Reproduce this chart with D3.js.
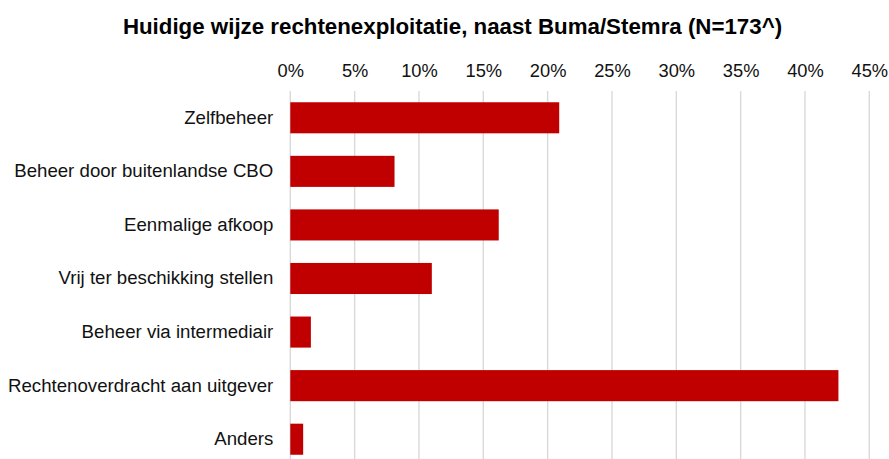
<!DOCTYPE html>
<html>
<head>
<meta charset="utf-8">
<script src="https://cdn.jsdelivr.net/npm/d3@7"></script>
<style>
  body { margin: 0; background: #fff; }
  text { font-family: "Liberation Sans", Arial, sans-serif; }
</style>
</head>
<body>
<div id="chart"></div>
<script>
// data
var categories = ["Zelfbeheer", "Beheer door buitenlandse CBO", "Eenmalige afkoop",
      "Vrij ter beschikking stellen", "Beheer via intermediair",
      "Rechtenoverdracht aan uitgever", "Anders"];
var values = [0.209, 0.081, 0.162, 0.110, 0.016, 0.426, 0.010];
var tickValues = [0, 0.05, 0.10, 0.15, 0.20, 0.25, 0.30, 0.35, 0.40, 0.45];
var title = "Huidige wijze rechtenexploitatie, naast Buma/Stemra (N=173^)";

var W = 889, H = 459;
var margin = { top: 91, left: 290.3, right: 19.7, bottom: -7 };

var svg = d3.select("#chart")
      .append("svg")
      .attr("width", W)
      .attr("height", H);

var x = d3.scaleLinear()
      .domain([0, 0.45])
      .range([margin.left, W - margin.right]);

var y = d3.scaleBand()
      .domain(categories)
      .range([margin.top, H - margin.bottom])
      .paddingInner(0.42)
      .paddingOuter(0.21);

// title
svg.append("text")
      .attr("x", 452.5)
      .attr("y", 34)
      .attr("text-anchor", "middle")
      .attr("font-weight", "bold")
      .attr("font-size", "22.3px")
      .attr("fill", "#000")
      .text(title);

// gridlines
svg.append("g")
      .selectAll("line")
      .data(tickValues)
      .join("line")
      .attr("x1", d => x(d))
      .attr("x2", d => x(d))
      .attr("y1", margin.top)
      .attr("y2", H)
      .attr("stroke", "#d9d9d9")
      .attr("stroke-width", 1.4);

// top axis
var xAxis = svg.append("g")
      .attr("transform", "translate(0," + (margin.top - 14) + ")")
      .call(d3.axisTop(x).tickValues(tickValues).tickFormat(d3.format(".0%")).tickSize(0).tickPadding(0));
xAxis.select(".domain").remove();
xAxis.selectAll("text")
      .attr("font-family", "'Liberation Sans', Arial, sans-serif")
      .attr("font-size", "18.3px")
      .attr("fill", "#111")
      .attr("dy", "0");

// bars
svg.append("g")
      .selectAll("rect")
      .data(values)
      .join("rect")
      .attr("x", x(0))
      .attr("y", (d, i) => y(categories[i]))
      .attr("width", d => x(d) - x(0))
      .attr("height", y.bandwidth())
      .attr("fill", "#C00000");

// category labels
var yAxis = svg.append("g")
      .attr("transform", "translate(" + (margin.left - 17) + ",0)")
      .call(d3.axisLeft(y).tickSize(0).tickPadding(0));
yAxis.select(".domain").remove();
yAxis.selectAll("text")
      .attr("font-family", "'Liberation Sans', Arial, sans-serif")
      .attr("font-size", "18.65px")
      .attr("fill", "#111");
</script>
</body>
</html>
